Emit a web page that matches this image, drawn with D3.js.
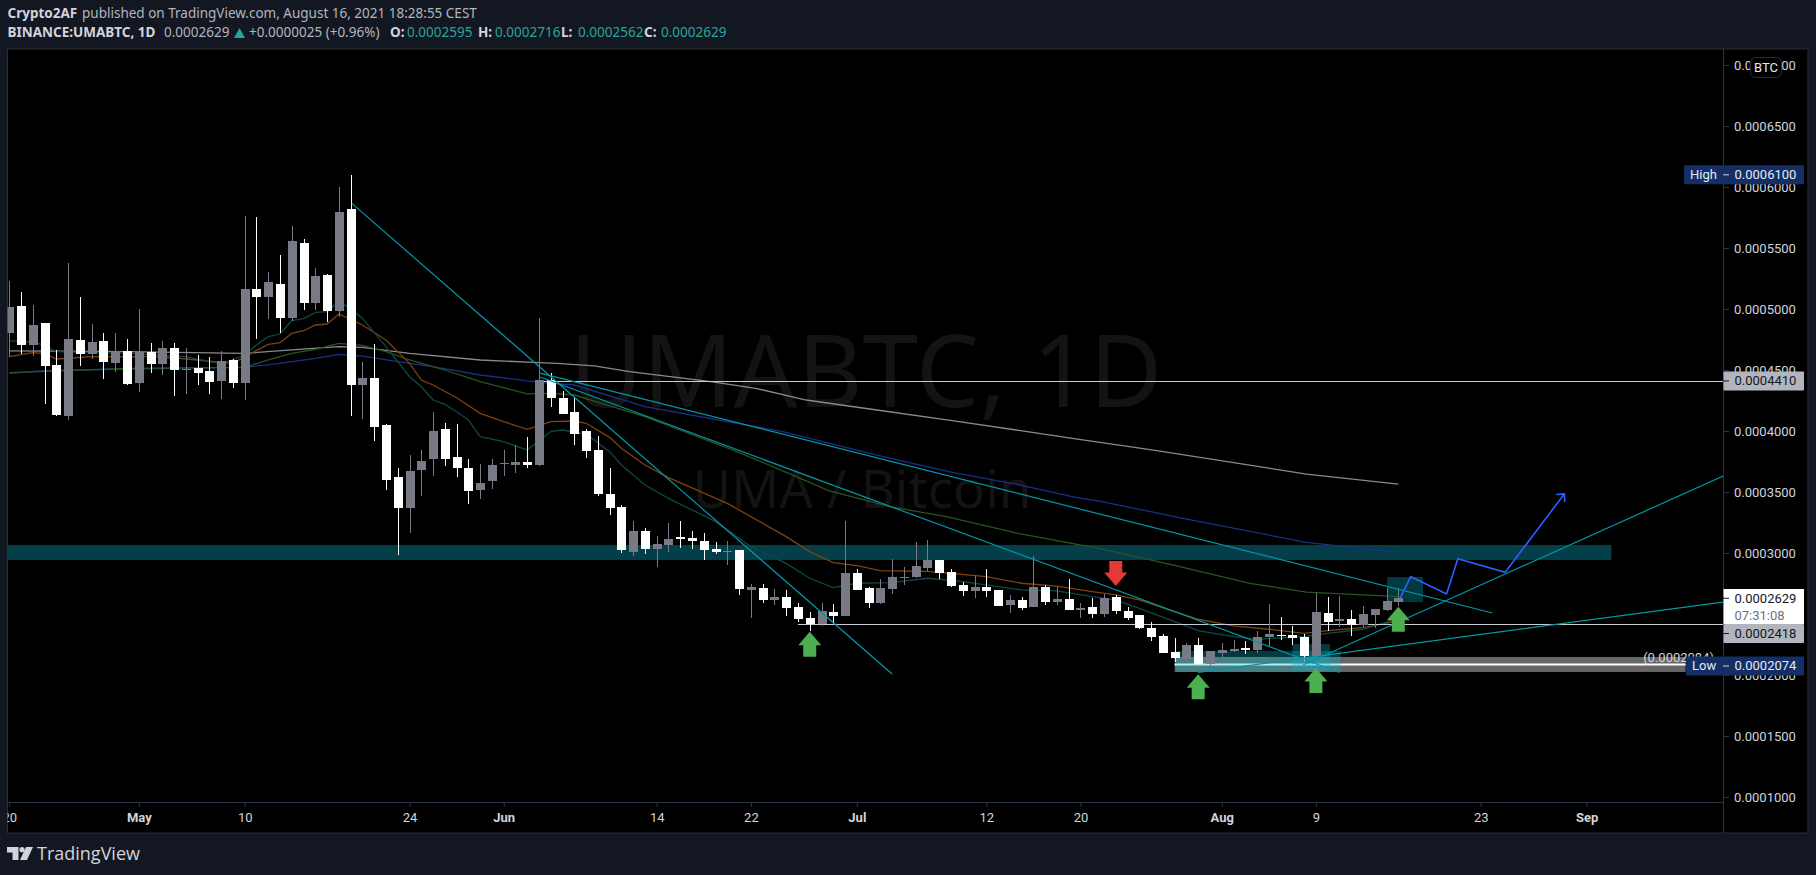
<!DOCTYPE html>
<html><head><meta charset="utf-8">
<script src="https://cdn.jsdelivr.net/npm/d3@7/dist/d3.min.js"></script>
<style>html,body{margin:0;padding:0;background:#131722;overflow:hidden}svg{display:block}</style>
</head><body><svg id="c" width="1816" height="875"></svg>
<script>
// Prices are in units of 0.0000001 BTC. Index 0 = 20 Apr 2021, index 118 = 16 Aug 2021.
const PRICE_UNIT = 1e-7;
const opens = [
4806,5024,4705,4885,4541,4123,4746,4631,4737,4557,4656,4393,4647,4549,4680,4500,4516,4492,4410,4582,
4393,5164,5098,5205,4926,5541,5049,5278,4983,5819,4377,4434,4049,3623,3369,3680,3770,4016,3787,3697,
3516,3590,3729,3721,3746,3721,4418,4271,4156,4000,3844,3484,3377,3008,3180,3033,3066,3131,3123,3098,
3033,3011,3025,2697,2713,2615,2640,2558,2467,2416,2517,2484,2836,2713,2588,2705,2795,2803,2877,2943,
2844,2738,2689,2721,2697,2574,2615,2558,2721,2599,2623,2533,2558,2500,2640,2525,2492,2386,2320,2189,
2132,2246,2091,2181,2197,2222,2205,2312,2328,2328,2312,2156,2509,2443,2460,2410,2492,2533,2595];
const highs = [
5229,5139,5033,4885,4664,5377,5098,4877,4803,4803,4754,5000,4721,4738,4721,4680,4623,4606,4656,4590,
5762,5754,5303,5442,5680,5574,5336,5287,5999,6100,4565,4713,4057,3697,3803,3844,4156,4065,4057,3770,
3729,3770,3844,3885,3951,4926,4475,4328,4279,4016,3959,3697,3394,3262,3205,3139,3246,3262,3180,3164,
3090,3098,3025,2746,2746,2705,2697,2590,2517,2590,2582,3262,2869,2721,2787,2948,2885,3090,3107,2943,
2869,2762,2820,2869,2697,2656,2640,2976,2738,2721,2787,2591,2632,2664,2656,2558,2492,2435,2337,2304,
2263,2304,2197,2263,2287,2279,2361,2582,2476,2402,2337,2673,2640,2648,2533,2566,2541,2714,2716];
const lows = [
4609,4631,4615,4221,4123,4090,4533,4590,4426,4483,4377,4320,4475,4459,4287,4303,4377,4303,4262,4352,
4254,4754,4918,4803,4901,4992,4992,4893,4934,4123,4098,3918,3516,2984,3164,3467,3631,3713,3623,3402,
3443,3525,3631,3656,3697,3713,4197,4139,3885,3779,3467,3312,3000,2976,2992,2885,3008,3041,3033,2943,
2992,2902,2656,2467,2590,2574,2484,2435,2361,2402,2418,2484,2697,2549,2582,2664,2738,2795,2853,2787,
2721,2648,2631,2640,2566,2508,2533,2558,2574,2574,2533,2468,2468,2476,2500,2451,2378,2279,2181,2107,
2115,2082,2074,2132,2189,2173,2181,2238,2287,2246,2115,2132,2361,2394,2320,2394,2386,2525,2562];
const closes = [
5016,4705,4869,4533,4131,4754,4631,4729,4565,4656,4385,4650,4549,4680,4500,4508,4475,4402,4574,4393,
5164,5098,5221,4926,5557,5049,5270,4983,5795,4377,4434,4033,3598,3369,3672,3754,4000,3770,3697,3508,
3574,3721,3738,3746,3721,4418,4271,4139,3975,3836,3484,3369,3025,3180,3033,3074,3115,3115,3098,3025,
3008,3017,2705,2721,2615,2640,2549,2459,2416,2525,2484,2836,2697,2590,2713,2803,2803,2894,2943,2836,
2730,2689,2721,2689,2566,2615,2549,2721,2599,2623,2533,2550,2500,2632,2525,2468,2386,2312,2181,2140,
2246,2091,2197,2205,2214,2205,2312,2337,2320,2304,2156,2517,2435,2460,2410,2500,2541,2607,2629];

// Moving averages as [day index, price]
const maTeal = [[0,4738],[2,4729],[3,4705],[4,4650],[10,4636],[15,4609],[18,4549],[20,4623],[21,4705],[22,4773],[23,4795],[24,4904],[25,4921],[26,4972],[27,4978],[28,5060],[29,5005],[30,4923],[32,4691],[34,4445],[35,4363],[36,4254],[37,4218],[38,4158],[39,4090],[40,3953],[42,3912],[44,3844],[46,3995],[47,4008],[49,3975],[51,3831],[52,3721],[54,3557],[56,3448],[60,3257],[63,3052],[66,2915],[68,2793],[70,2716],[72,2752],[75,2757],[78,2793],[81,2765],[84,2724],[86,2697],[89,2690],[92,2643],[94,2615],[96,2547],[99,2438],[101,2364],[104,2315],[106,2293],[110,2315],[112,2342],[115,2375],[118,2465]];
const maOrange = [[0,4609],[2,4642],[3,4635],[4,4590],[7,4609],[12,4609],[14,4600],[16,4582],[18,4563],[19,4554],[20,4609],[22,4710],[23,4724],[24,4800],[25,4822],[26,4869],[27,4877],[28,4959],[30,4869],[32,4746],[34,4554],[35,4418],[36,4377],[38,4273],[40,4145],[42,4076],[44,4014],[46,4077],[48,4082],[49,4063],[51,3948],[52,3858],[54,3721],[56,3618],[61,3407],[66,3134],[68,3011],[70,2921],[72,2896],[74,2855],[78,2850],[80,2833],[83,2806],[86,2752],[89,2728],[92,2684],[94,2656],[96,2615],[99,2520],[101,2457],[104,2402],[107,2375],[110,2342],[112,2364],[115,2388],[118,2443]];
const maGreen = [[0,4478],[10,4514],[20,4522],[22,4582],[24,4636],[26,4669],[28,4718],[30,4702],[32,4650],[34,4582],[37,4500],[40,4404],[44,4305],[46,4309],[48,4295],[54,4118],[61.5,3844],[67.5,3600],[69.6,3511],[74.8,3380],[79.6,3298],[85.7,3161],[90.7,3071],[92.6,3038],[98.9,2901],[105.4,2751],[110.2,2680],[118,2642]];
const maNavy = [[0,4472],[3,4494],[10,4508],[20,4522],[23,4554],[26,4595],[28,4628],[30,4614],[34,4554],[36,4527],[40,4459],[45,4399],[48,4377],[54,4200],[65.7,3995],[73.7,3803],[79.8,3667],[85.9,3557],[90.6,3456],[92.6,3426],[99.7,3284],[110.2,3087],[118,3005]];
const maGray = [[0,4656],[10,4650],[20,4636],[24,4665],[28,4691],[30,4685],[34,4636],[40,4582],[45,4560],[46.5,4555],[49.7,4533],[52.7,4486],[59.6,4404],[63.4,4350],[67.7,4254],[73.7,4172],[79.8,4090],[85.9,4003],[90.6,3935],[97.2,3844],[110.2,3647],[118,3565]];

// Drawings, [day index, price]
const trendLines = [
  [[29.1,5866],[75,2008]],
  [[45.1,4443],[113,2020]],
  [[45.1,4475],[126,2508]],
  [[101,2022],[145.6,2598]],
  [[109.9,2082],[145.6,3631]]];
const bluePath = [[118.15,2631],[119.06,2806],[122.1,2664],[123.06,2953],[127.08,2842],[132.1,3484]];
const upArrows = [[68,2355],[101,2006],[111,2057],[118,2560]];
const downArrows = [[94,2730]];
const levelLines = [{from:45.2,price:4410},{from:67,price:2418}];
const priceTicks = [1000,1500,2000,2500,3000,3500,4000,4500,5000,5500,6000,6500,7000];
const timeTickIndex = [0,11,20,34,42,55,63,72,83,91,103,111,125,134];
const timeTickLabels = ["20","May","10","24","Jun","14","22","Jul","12","20","Aug","9","23","Sep"];
const timeTickBold = ["May","Jun","Jul","Aug","Sep"];

const FONT = "Roboto, sans-serif";
const fmt = v => (v*PRICE_UNIT).toFixed(7);
const svg = d3.select("#c");
const paneL=7.5, paneR=1723, paneT=49, paneB=802;
const x = d3.scaleLinear().domain([0,118]).range([9.3,1398.3]);
const y = d3.scaleLinear().domain([1000,7000]).range([797,65]);

svg.append("rect").attr("width",1816).attr("height",875).attr("fill","#131722");
svg.append("rect").attr("x",paneL).attr("y",paneT).attr("width",1808-paneL).attr("height",833-paneT).attr("fill","#000").attr("stroke","#2a2e39");
const defs = svg.append("defs");
defs.append("clipPath").attr("id","pane").append("rect").attr("x",paneL).attr("y",paneT).attr("width",paneR-paneL).attr("height",paneB-paneT);
defs.append("clipPath").attr("id","taxis").append("rect").attr("x",paneL).attr("y",paneB).attr("width",paneR-paneL).attr("height",31);

// watermark
const wm = svg.append("g").attr("fill","#131313").attr("text-anchor","middle").attr("font-family","'Noto Sans', sans-serif");
wm.append("text").attr("x",866).attr("y",407).attr("font-size",100).text("UMABTC, 1D");
wm.append("text").attr("x",862).attr("y",508).attr("font-size",53).text("UMA / Bitcoin");

const pane = svg.append("g").attr("clip-path","url(#pane)");
const rectP=(g,i0,i1,p0,p1,fill,op)=>g.append("rect").attr("x",x(i0)).attr("width",x(i1)-x(i0)).attr("y",y(p1)).attr("height",y(p0)-y(p1)).attr("fill",fill).attr("fill-opacity",op===undefined?1:op);
// zones
rectP(pane,-2,136.1,2943,3066,"#043f49");
rectP(pane,99,142.4,2025,2148,"#666");
// the 0.0002084 level line sits under the translucent zones
pane.append("line").attr("x1",x(99)).attr("x2",x(142.4)).attr("y1",Math.round(y(2090))+.5).attr("y2",Math.round(y(2090))+.5).attr("stroke","#fff").attr("stroke-width",2);
const zones = pane.append("g");
rectP(zones,99.1,113.1,2025,2197,"#00bcd4",.3);
rectP(zones,109,112.2,2041,2254,"#00bcd4",.3);
rectP(zones,117.05,120.1,2598,2803,"#00bcd4",.3);

// moving averages
const line = d3.line().x(d=>x(d[0])).y(d=>y(d[1]));
[[maGray,"#8a8a8a"],[maNavy,"#1a2f86"],[maGreen,"#27551f"],[maOrange,"#7e4210"],[maTeal,"#0b4a44"]].forEach(([d,c])=>{
  pane.append("path").datum(d).attr("d",line).attr("fill","none").attr("stroke",c).attr("stroke-width",1.3);
});

// level lines
levelLines.forEach(l=>pane.append("line").attr("x1",x(l.from)).attr("x2",paneR).attr("y1",Math.round(y(l.price))+.5).attr("y2",Math.round(y(l.price))+.5).attr("stroke","#c9ccd4").attr("stroke-width",1));

// candles
const candles = d3.range(opens.length);
const cg = pane.append("g").attr("shape-rendering","crispEdges");
const col = i => closes[i]>=opens[i] ? "#787b86" : "#ffffff";
cg.selectAll("line").data(candles).join("line")
  .attr("x1",i=>Math.round(x(i))+.5).attr("x2",i=>Math.round(x(i))+.5)
  .attr("y1",i=>y(highs[i])).attr("y2",i=>y(lows[i])).attr("stroke",col);
cg.selectAll("rect").data(candles).join("rect")
  .attr("x",i=>Math.round(x(i))-4).attr("width",9)
  .attr("y",i=>y(Math.max(opens[i],closes[i])))
  .attr("height",i=>Math.max(1,Math.abs(y(opens[i])-y(closes[i])))).attr("fill",col);

pane.append("text").attr("x",1714).attr("y",662).attr("text-anchor","end").attr("fill","#d1d4dc").attr("font-family",FONT).attr("font-size",13).text("(0.0002084)");

// trend lines
trendLines.forEach(t=>pane.append("path").datum(t).attr("d",line).attr("fill","none").attr("stroke","#0097a7").attr("stroke-width",1.2));

// blue projection
pane.append("path").datum(bluePath).attr("d",line).attr("fill","none").attr("stroke","#2962ff").attr("stroke-width",1.6);
const end=bluePath[bluePath.length-1];
pane.append("path").attr("d",`M${x(end[0])-8},${y(end[1])+.5}L${x(end[0])},${y(end[1])}L${x(end[0])+.5},${y(end[1])+8}`).attr("fill","none").attr("stroke","#2962ff").attr("stroke-width",1.6);

// signal arrows
pane.selectAll("path.up").data(upArrows).join("path").attr("class","up").attr("fill","#4caf50")
 .attr("transform",d=>`translate(${x(d[0])},${y(d[1])})`)
 .attr("d","M0,0L11.5,13.5L6.5,13.5L6.5,25L-6.5,25L-6.5,13.5L-11.5,13.5Z");
pane.selectAll("path.down").data(downArrows).join("path").attr("class","down").attr("fill","#e53935")
 .attr("transform",d=>`translate(${x(d[0])},${y(d[1])})`)
 .attr("d","M0,0L11.5,-13.5L6.5,-13.5L6.5,-25L-6.5,-25L-6.5,-13.5L-11.5,-13.5Z");

// price axis
const axisCol="#2a3644";
const yAxis = d3.axisRight(y).tickValues(priceTicks).tickFormat(fmt).tickSize(6).tickPadding(5);
const ya = svg.append("g").attr("transform",`translate(${paneR},0)`).call(yAxis);
ya.select(".domain").remove();
ya.selectAll("line").attr("stroke",axisCol);
ya.selectAll("text").attr("fill","#d1d4dc").attr("font-family",FONT).attr("font-size",13);
svg.append("line").attr("x1",paneR+.5).attr("x2",paneR+.5).attr("y1",paneT).attr("y2",833).attr("stroke",axisCol);

// time axis
const xAxis = d3.axisBottom(x).tickValues(timeTickIndex).tickFormat((d,i)=>timeTickLabels[i]).tickSize(5).tickPadding(6);
const xa = svg.append("g").attr("clip-path","url(#taxis)").append("g").attr("transform",`translate(0,${paneB})`).call(xAxis);
xa.select(".domain").remove();
xa.selectAll("line").attr("stroke",axisCol);
xa.selectAll("text").attr("fill","#d1d4dc").attr("font-family",FONT).attr("font-size",13)
  .attr("font-weight",(d,i)=>timeTickBold.includes(timeTickLabels[i])?700:400);
svg.append("line").attr("x1",paneL).attr("x2",paneR).attr("y1",paneB+.5).attr("y2",paneB+.5).attr("stroke",axisCol);

// price labels
function tag(x0,w,p,h,fill,label,txtFill,dash,off){
  const cy=y(p)+(off||0), g=svg.append("g");
  g.append("rect").attr("x",x0).attr("y",cy-h/2).attr("width",w).attr("height",h).attr("rx",1).attr("fill",fill);
  if(label) g.append("text").attr("x",x0+6).attr("y",cy+4.5).attr("fill",txtFill).attr("font-family",FONT).attr("font-size",13).text(label);
  g.append("line").attr("x1",paneR).attr("x2",paneR+6).attr("y1",cy).attr("y2",cy).attr("stroke",dash);
  g.append("text").attr("x",1734.5).attr("y",cy+4.5).attr("fill",txtFill).attr("font-family",FONT).attr("font-size",13).text(fmt(p));
}
tag(1684,120,6100,19,"#132f66","High","#e6e9f0","#d1d4dc");
tag(1686,118,2074,19,"#132f66","Low","#e6e9f0","#d1d4dc");
tag(1723.5,80.5,4410,19,"#b2b5be","","#131722","#131722");
tag(1723.5,80.5,2418,19,"#b2b5be","","#131722","#131722",9.5);
// last price
{
  const cy=y(closes[118]);
  svg.append("rect").attr("x",1723.5).attr("y",589).attr("width",80.5).attr("height",35).attr("fill","#fff");
  svg.append("line").attr("x1",paneR).attr("x2",paneR+6).attr("y1",cy).attr("y2",cy).attr("stroke","#131722");
  svg.append("text").attr("x",1734.5).attr("y",cy+4.5).attr("fill","#131722").attr("font-family",FONT).attr("font-size",13).text(fmt(closes[118]));
  svg.append("text").attr("x",1734.5).attr("y",620).attr("fill","#6f727c").attr("font-family",FONT).attr("font-size",13).text("07:31:08");
}
// BTC badge
svg.append("rect").attr("x",1750.5).attr("y",57.5).attr("width",31).attr("height",20).attr("rx",5).attr("fill","#000").attr("stroke","#2a2e39");
svg.append("text").attr("x",1766).attr("y",72).attr("text-anchor","middle").attr("fill","#e6e9f0").attr("font-family",FONT).attr("font-size",13).text("BTC");

// header
const hdr=(xp,yp,txt,fill,w)=>svg.append("text").attr("x",xp).attr("y",yp).attr("fill",fill).attr("font-family","'Noto Sans', sans-serif").attr("font-size",13.5).attr("font-weight",w||400).text(txt);
hdr(7.5,18,"Crypto2AF","#d1d4dc",700);
hdr(82,18,"published on TradingView.com, August 16, 2021 18:28:55 CEST","#b2b5be");
hdr(7.5,37,"BINANCE:UMABTC, 1D","#d1d4dc",700);
hdr(164,37,"0.0002629","#b2b5be");
svg.append("path").attr("d","M234,38L239.5,28L245,38Z").attr("fill","#26a69a");
hdr(249,37,"+0.0000025 (+0.96%)","#b2b5be");
const ohlc=[["O:",opens[118],390],["H:",highs[118],478],["L:",lows[118],561],["C:",closes[118],644]];
ohlc.forEach(([k,v,xp])=>{hdr(xp,37,k,"#d1d4dc",700);hdr(xp+17,37,fmt(v),"#26a69a");});

// logo
const logo=svg.append("g").attr("fill","#d1d4dc");
logo.append("path").attr("d","M7,847H18.5V860H12.5V852.5H7Z");
logo.append("circle").attr("cx",22).attr("cy",849.7).attr("r",2.6);
logo.append("path").attr("d","M26,847H33L27,860H20Z");
svg.append("text").attr("x",37).attr("y",860).attr("fill","#d1d4dc").attr("font-family","'Open Sans', sans-serif").attr("font-size",18).attr("font-weight",500).text("TradingView");
</script></body></html>
